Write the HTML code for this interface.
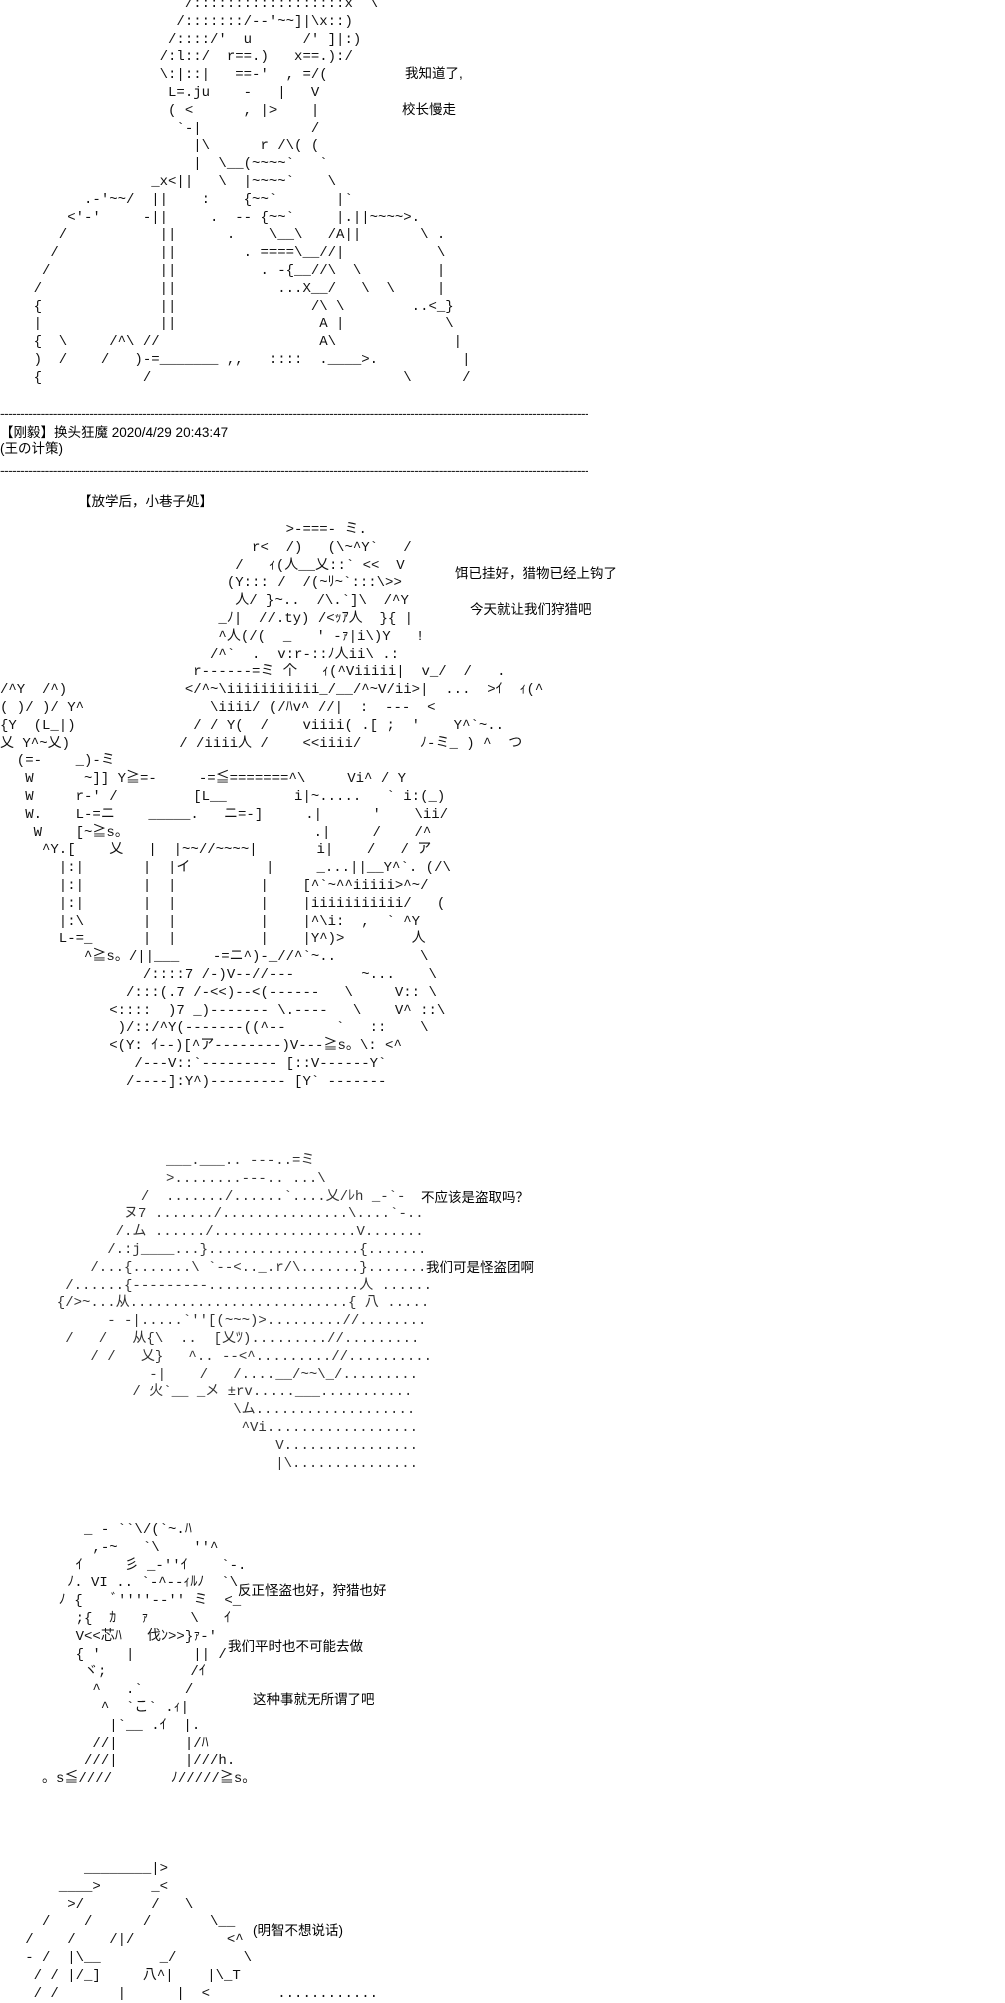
<!DOCTYPE html>
<html><head><meta charset="utf-8">
<style>
html,body{margin:0;padding:0;background:#fff;}
body{width:1005px;height:2000px;position:relative;overflow:hidden;color:#000;}
pre{position:absolute;margin:0;font-family:"Liberation Mono","Noto Sans CJK JP",monospace;font-size:14px;line-height:17.8px;color:#111;}
.t{position:absolute;font-family:"Liberation Sans","Noto Sans CJK SC",sans-serif;font-size:13.5px;line-height:16px;white-space:nowrap;color:#000;}
.d{position:absolute;left:0;width:588px;overflow:hidden;white-space:nowrap;font-family:"Liberation Sans",sans-serif;font-size:14px;line-height:14px;letter-spacing:-0.6px;color:#222;}
</style></head><body>

<pre style="left:0;top:-4px">
                      /::::::::::::::::::x  \
                     /:::::::/--'~~]|\x::)
                    /::::/'  u      /' ]|:)
                   /:l::/  r==.)   x==.):/
                   \:|::|   ==-'  , =/(
                    L=.ju    -   |   V
                    ( &lt;      , |&gt;    |
                     `-|             /
                       |\      r /\( (
                       |  \__(~~~~`   `
                  _x&lt;||   \  |~~~~`    \
          .-'~~/  ||    :    {~~`       |`
        &lt;'-'     -||     .  -- {~~`     |.||~~~~&gt;.
       /           ||      .    \__\   /A||       \ .
      /            ||        . ====\__//|           \
     /             ||          . -{__//\  \         |
    /              ||            ...X__/   \  \     |
    {              ||                /\ \        ..&lt;_}
    |              ||                 A |            \
    {  \     /^\ //                   A\              |
    )  /    /   )-=_______ ,,   ::::  .____&gt;.          |
    {            /                              \      /
</pre>
<div class="t" style="left:405px;top:66px">我知道了,</div>
<div class="t" style="left:402px;top:102px">校长慢走</div>

<div class="d" style="top:406px">------------------------------------------------------------------------------------------------------------------------------------------------------</div>
<div class="t" style="left:0;top:425px">【刚毅】换头狂魔 2020/4/29 20:43:47</div>
<div class="t" style="left:0;top:441px">(王の计策)</div>
<div class="d" style="top:463px">------------------------------------------------------------------------------------------------------------------------------------------------------</div>
<div class="t" style="left:78px;top:494px">【放学后，小巷子処】</div>

<pre style="left:0;top:522px">
                                  &gt;-===- ミ.
                              r&lt;  /)   (\~^Y`   /
                            /   ｨ(人__乂::` &lt;&lt;  V
                           (Y::: /  /(~ﾘ~`:::\&gt;&gt;
                            人/ }~..  /\.`]\  /^Y
                          _ﾉ|  //.ty) /&lt;ｯｱ人  }{ |
                          ^人(/(  _   ' -ｧ|i\)Y   !
                         /^`  .  v:r-::ﾉ人ii\ .:
                       r------=ミ 个   ｨ(^Viiiii|  v_/  /   .
/^Y  /^)              &lt;/^~\iiiiiiiiiii_/__/^~V/ii&gt;|  ...  &gt;ｲ  ｨ(^
( )/ )/ Y^               \iiii/ (/ﾊv^ //|  :  ---  &lt;
{Y  (L_|)              / / Y(  /    viiii( .[ ;  '    Y^`~..
乂 Y^~乂)             / /iiii人 /    &lt;&lt;iiii/       ﾉ-ミ_ ) ^  つ
  (=-    _)-ミ
   W      ~]] Y≧=-     -=≦=======^\     Vi^ / Y
   W     r-' /         [L__        i|~.....   ` i:(_)
   W.    L-=ニ    _____.   ニ=-]     .|      '    \ii/
    W    [~≧s。                      .|     /    /^
     ^Y.[    乂   |  |~~//~~~~|       i|    /   / ア
       |:|       |  |イ         |     _...||__Y^`. (/\
       |:|       |  |          |    [^`~^^iiiii&gt;^~/
       |:|       |  |          |    |iiiiiiiiiii/   (
       |:\       |  |          |    |^\i:  ,  ` ^Y
       L-=_      |  |          |    |Y^)&gt;        人
          ^≧s。/||___    -=ニ^)-_//^`~..          \
                 /::::7 /-)V--//---        ~...    \
               /:::(.7 /-&lt;&lt;)--&lt;(------   \     V:: \
             &lt;::::  )7 _)------- \.----   \    V^ ::\
              )/::/^Y(-------((^--      `   ::    \
             &lt;(Y: ｲ--)[^ア--------)V---≧s。\: &lt;^
                /---V::`--------- [::V------Y`
               /----]:Y^)--------- [Y` -------
</pre>
<div class="t" style="left:455px;top:566px">饵已挂好，猎物已经上钩了</div>
<div class="t" style="left:470px;top:602px">今天就让我们狩猎吧</div>

<pre style="left:40px;top:1153px;color:#333">
               ___.___.. ---..=ミ
               &gt;........---.. ...\
            /  ......./......`....乂/ﾚh _-`-
          ヌ7 ......./...............\....`-..
         /.ム ....../.................V.......
        /.:j____...}..................{.......
      /...{.......\ `--&lt;.._.r/\.......}.......
   /......{---------..................人 ......
  {/&gt;~...从..........................{ 八 .....
        - -|.....`''[(~~~)&gt;.........//........
   /   /   从{\  ..  [乂ﾂ).........//.........
      / /   乂}   ^.. --&lt;^.........//..........
             -|    /   /....__/~~\_/.........
           / 火`__ _メ ±rv.....___...........
                       \ム...................
                        ^Vi..................
                            V................
                            |\...............
</pre>
<div class="t" style="left:421px;top:1190px">不应该是盗取吗？</div>
<div class="t" style="left:426px;top:1260px">我们可是怪盗团啊</div>

<pre style="left:0;top:1522px">
          _ - ``\/(`~.ﾊ
           ,-~   `\    ''^
         ｲ     彡 _-''ｲ    `-.
        ﾉ. VI .. `-^--ｨﾙﾉ  `\
       ﾉ {    ﾞ''''--'' ミ  &lt;_
         ;{  ｶ   ｧ     \   ｲ
         V&lt;&lt;芯ﾊ   伐ﾝ&gt;&gt;}ｧ-'
         { '   |       || /
          ヾ;          /ｲ
           ^   .`     /
            ^  `こ` .ｨ|
             |`__ .ｲ  |.
           //|        |/ﾊ
          ///|        |///h.
     。s≦////       ﾉ/////≧s。
</pre>
<div class="t" style="left:238px;top:1583px">反正怪盗也好，狩猎也好</div>
<div class="t" style="left:228px;top:1639px">我们平时也不可能去做</div>
<div class="t" style="left:253px;top:1692px">这种事就无所谓了吧</div>

<pre style="left:0;top:1861px">
          ________|&gt;
       ____&gt;      _&lt;
        &gt;/        /   \
     /    /      /       \__
   /    /    /|/           &lt;^
   - /  |\__       _/        \
    / / |/_]     八^|    |\_T
    / /       |      |  &lt;        ............
</pre>
<div class="t" style="left:253px;top:1923px">(明智不想说话)</div>

</body></html>
